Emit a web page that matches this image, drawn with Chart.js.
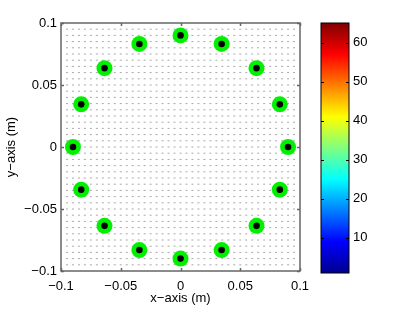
<!DOCTYPE html>
<html>
<head>
<meta charset="utf-8">
<script src="https://cdn.jsdelivr.net/npm/chart.js@4/dist/chart.umd.min.js"></script>
<style>
html,body{margin:0;padding:0;background:#fff;}
#wrap{position:relative;width:411px;height:310px;}
#main{position:absolute;left:0;top:0;}
#cbar{position:absolute;left:300px;top:0;}
</style>
</head>
<body>
<div id="wrap">
<canvas id="main" width="411" height="310"></canvas>
<canvas id="cbar" width="111" height="310"></canvas>
</div>
<script>
// ---- data ----
const gridX = [-0.095,-0.09,-0.085,-0.08,-0.075,-0.07,-0.065,-0.06,-0.055,-0.05,-0.045,-0.04,-0.035,-0.03,-0.025,-0.02,-0.015,-0.01,-0.005,0,0.005,0.01,0.015,0.02,0.025,0.03,0.035,0.04,0.045,0.05,0.055,0.06,0.065,0.07,0.075,0.08,0.085,0.09,0.095];
const gridY = [-0.095,-0.09,-0.085,-0.08,-0.075,-0.07,-0.065,-0.06,-0.055,-0.05,-0.045,-0.04,-0.035,-0.03,-0.025,-0.02,-0.015,-0.01,-0.005,0,0.005,0.01,0.015,0.02,0.025,0.03,0.035,0.04,0.045,0.05,0.055,0.06,0.065,0.07,0.075,0.08,0.085,0.09,0.095];
const srcX = [0.09,0.0831,0.0636,0.0344,0,-0.0344,-0.0636,-0.0831,-0.09,-0.0831,-0.0636,-0.0344,0,0.0344,0.0636,0.0831];
const srcY = [0,0.0344,0.0636,0.0831,0.09,0.0831,0.0636,0.0344,0,-0.0344,-0.0636,-0.0831,-0.09,-0.0831,-0.0636,-0.0344];
const xTicks = [-0.1,-0.05,0,0.05,0.1];
const yTicks = [-0.1,-0.05,0,0.05,0.1];
const tickLabels = ['\u22120.1','\u22120.05','0','0.05','0.1'];
const cbRange = [1,65];
const cbTicks = [10,20,30,40,50,60];
const xTitle = 'x\u2212axis (m)';
const yTitle = 'y\u2212axis (m)';

const FONT = {family:"'Liberation Sans', Arial, sans-serif", size:13};
Chart.defaults.font.family = FONT.family;
Chart.defaults.font.size = FONT.size;
Chart.defaults.color = '#000';

const quiverPts = [];
gridY.forEach(y => gridX.forEach(x => quiverPts.push({x, y})));
const greenPts = srcX.map((x,i)=>({x, y:srcY[i]}));
const blackPts = srcX.map((x,i)=>({x, y:srcY[i]}));

const AXC = '#666';
const boxTicks = {
  id:'boxTicks',
  afterDraw(chart, args, opts){
    const {ctx, chartArea:a} = chart;
    ctx.save();
    ctx.strokeStyle = opts.color; ctx.lineWidth = opts.width;
    ctx.strokeRect(a.left, a.top, a.right-a.left, a.bottom-a.top);
    const L = opts.len;
    ctx.beginPath();
    if (chart.scales.x && opts.xticks) chart.scales.x.ticks.forEach(t=>{
      const p = Math.round(chart.scales.x.getPixelForValue(t.value))+0.5;
      ctx.moveTo(p,a.bottom); ctx.lineTo(p,a.bottom-L);
      ctx.moveTo(p,a.top); ctx.lineTo(p,a.top+L);
    });
    chart.scales.y.ticks.forEach(t=>{
      const p = Math.round(chart.scales.y.getPixelForValue(t.value))+0.5;
      ctx.moveTo(a.left,p); ctx.lineTo(a.left+L,p);
      ctx.moveTo(a.right,p); ctx.lineTo(a.right-L,p);
    });
    ctx.stroke();
    ctx.restore();
  }
};

new Chart(document.getElementById('main'), {
  type:'scatter',
  data:{datasets:[
    {data:quiverPts, order:3, pointStyle:'line', pointRadius:1, borderWidth:1, borderColor:'#a8a8a8', backgroundColor:'#a8a8a8', pointHoverRadius:0},
    {data:greenPts, order:2, pointStyle:'circle', pointRadius:8, borderWidth:0, borderColor:'#00f000', backgroundColor:'#00f000', pointHoverRadius:0},
    {data:blackPts, order:1, pointStyle:'circle', pointRadius:3.3, borderWidth:0, borderColor:'#000', backgroundColor:'#000', pointHoverRadius:0}
  ]},
  options:{
    responsive:false, animation:false, events:[],
    layout:{padding:{left:0, right:111, top:23, bottom:0}},
    plugins:{legend:{display:false}, tooltip:{enabled:false}, boxTicks:{color:AXC, width:1.5, len:3, xticks:true}},
    scales:{
      x:{type:'linear', min:-0.1, max:0.1,
        grid:{display:false, drawTicks:false},
        border:{display:false},
        afterBuildTicks(s){ s.ticks = xTicks.map(v=>({value:v})); },
        ticks:{padding:8, maxRotation:0, callback:(v,i)=>tickLabels[i]},
        title:{display:true, text:xTitle, font:FONT, padding:{top:2,bottom:4}},
        afterFit(s){ s.height = 39; }
      },
      y:{type:'linear', min:-0.1, max:0.1,
        grid:{display:false, drawTicks:false},
        border:{display:false},
        afterBuildTicks(s){ s.ticks = yTicks.map(v=>({value:v})); },
        ticks:{padding:4, callback:(v,i)=>tickLabels[i]},
        title:{display:true, text:yTitle, font:FONT, padding:{top:4,bottom:2}},
        afterFit(s){ s.width = 61; }
      }
    }
  },
  plugins:[boxTicks]
});

function jetGradient(ctx, area){
  const g = ctx.createLinearGradient(0, area.bottom, 0, area.top);
  g.addColorStop(0, 'rgb(0,0,143)');
  g.addColorStop(0.125, 'rgb(0,0,255)');
  g.addColorStop(0.375, 'rgb(0,255,255)');
  g.addColorStop(0.625, 'rgb(255,255,0)');
  g.addColorStop(0.875, 'rgb(255,0,0)');
  g.addColorStop(1, 'rgb(128,0,0)');
  return g;
}

new Chart(document.getElementById('cbar'), {
  type:'bar',
  data:{labels:['c'], datasets:[{data:[cbRange], barPercentage:1, categoryPercentage:1, borderWidth:0,
    backgroundColor(c){ const a=c.chart.chartArea; if(!a) return '#00f'; return jetGradient(c.chart.ctx, a); }}]},
  options:{
    responsive:false, animation:false, events:[],
    layout:{padding:{left:21, right:0, top:23, bottom:37}},
    plugins:{legend:{display:false}, tooltip:{enabled:false}, boxTicks:{color:'#000', width:1, len:3, xticks:false}},
    scales:{
      x:{display:false},
      y:{position:'right', min:cbRange[0], max:cbRange[1],
        grid:{display:false, drawTicks:false}, border:{display:false},
        afterBuildTicks(s){ s.ticks = cbTicks.map(v=>({value:v})); },
        ticks:{padding:4},
        afterFit(s){ s.width = 62; }
      }
    }
  },
  plugins:[boxTicks]
});
</script>
</body>
</html>
